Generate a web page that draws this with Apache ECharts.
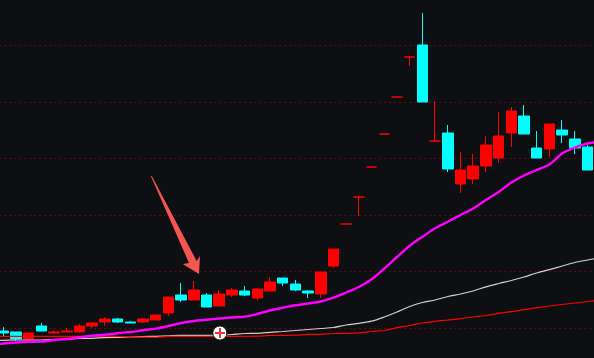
<!DOCTYPE html>
<html>
<head>
<meta charset="utf-8">
<style>
  html, body { margin: 0; padding: 0; background: #0e0f12; }
  #chart { width: 594px; height: 358px; }
</style>
<script src="https://cdn.jsdelivr.net/npm/echarts@6/dist/echarts.min.js"></script>
</head>
<body>
<div id="chart"></div>
<script>
// first and last slot only carry the averages so they run off the canvas edges
const opens = [null, 5.35, 5.25, 4.55, 5.85, 5.15, 5.25, 5.25, 5.85, 6.25, 6.55, 6.25, 6.25, 6.45, 7.15, 8.95, 8.45, 8.95, 7.85, 8.95, 9.35, 8.65, 9.35, 10.65, 10.05, 9.35, 9.05, 11.85, 16.05, 18.75, 21.75, 25.05, 28.75, 32.75, 33.95, 24.35, 25.15, 20.05, 20.55, 21.85, 22.65, 25.15, 26.85, 23.65, 23.55, 25.45, 24.55, 23.75, null]
const closes = [null, 5.15, 4.55, 5.15, 5.35, 5.25, 5.35, 5.85, 6.15, 6.55, 6.25, 6.15, 6.55, 6.95, 8.75, 8.45, 9.45, 7.75, 9.05, 9.45, 8.95, 9.55, 10.25, 10.15, 9.45, 9.15, 11.25, 13.55, 16.05, 18.75, 21.75, 25.05, 28.75, 32.75, 28.25, 24.35, 21.55, 21.45, 21.85, 23.95, 24.85, 27.35, 25.05, 22.65, 26.05, 24.95, 23.65, 21.45, null]
const lows = [null, 4.85, 4.35, 4.4, 5.35, 5.05, 5.25, 5.15, 5.65, 5.85, 6.15, 6.15, 6.15, 6.45, 6.85, 8.25, 8.45, 7.75, 7.85, 8.75, 8.85, 8.45, 9.35, 9.85, 9.35, 8.65, 8.65, 11.65, 16.05, 16.85, 21.75, 25.05, 28.75, 31.85, 28.25, 24.35, 21.25, 19.15, 20.05, 21.25, 22.15, 23.75, 25.05, 22.65, 22.75, 24.15, 23.05, 21.45, null]
const highs = [null, 5.75, 5.25, 5.15, 6.15, 5.45, 5.65, 6.05, 6.15, 6.75, 6.65, 6.35, 6.65, 6.95, 8.75, 10.15, 10.35, 9.15, 9.45, 9.65, 9.85, 9.65, 10.75, 10.65, 10.45, 9.45, 11.25, 13.55, 16.05, 18.75, 21.75, 25.05, 28.75, 32.75, 37.15, 28.35, 25.95, 23.25, 23.05, 24.85, 27.25, 27.75, 27.95, 25.35, 26.05, 26.45, 25.35, 23.95, null]

const maFast = [3.95, 4.1, 4.2, 4.27, 4.29, 4.45, 4.55, 4.72, 4.87, 4.97, 5.13, 5.25, 5.42, 5.59, 5.85, 6.15, 6.35, 6.48, 6.6, 6.7, 6.78, 7.05, 7.4, 7.67, 7.92, 8.1, 8.3, 8.68, 9.2, 9.75, 10.52, 11.6, 12.75, 13.88, 14.77, 15.62, 16.27, 16.95, 17.6, 18.45, 19.25, 20.2, 20.9, 21.45, 22, 23.1, 23.7, 24.1, 24.25]
const maMid = [4.4, 4.42, 4.45, 4.45, 4.45, 4.5, 4.55, 4.6, 4.62, 4.69, 4.72, 4.75, 4.79, 4.82, 4.87, 4.92, 4.92, 4.92, 4.92, 5, 5.1, 5.12, 5.21, 5.3, 5.4, 5.5, 5.6, 5.7, 5.95, 6.12, 6.33, 6.75, 7.25, 7.8, 8.2, 8.45, 8.8, 9.05, 9.35, 9.77, 10.1, 10.4, 10.75, 11.15, 11.48, 11.85, 12.2, 12.45, 12.68]
const maSlow = [4.82, 4.82, 4.82, 4.82, 4.82, 4.82, 4.82, 4.82, 4.82, 4.82, 4.82, 4.77, 4.73, 4.72, 4.81, 4.82, 4.82, 4.82, 4.82, 4.82, 4.82, 4.83, 4.91, 4.92, 4.93, 5.01, 5.02, 5.1, 5.12, 5.17, 5.3, 5.4, 5.68, 5.9, 6.15, 6.32, 6.45, 6.58, 6.75, 6.9, 7.12, 7.28, 7.48, 7.68, 7.85, 8, 8.15, 8.3, 8.43]

const days = opens.map((_, i) => i)
const candles = opens.map((o, i) => (o === null ? '-' : [o, closes[i], lows[i], highs[i]]))

const upColor = '#ff0000'
const downColor = '#00ffff'

function maSeries(data, color, width) {
  return {
    type: 'line',
    data,
    symbol: 'none',
    smooth: 0.3,
    silent: true,
    lineStyle: { color, width },
  }
}

const chart = echarts.init(document.getElementById('chart'), null, { renderer: 'canvas' })

chart.setOption({
  animation: false,
  backgroundColor: '#0e0f12',
  grid: { left: -15.75, top: -11, width: 622.3, height: 395.5, outerBoundsMode: 'none' },
  xAxis: {
    type: 'category',
    data: days,
    axisLine: { show: false },
    axisTick: { show: false },
    axisLabel: { show: false },
    splitLine: { show: false },
  },
  yAxis: {
    type: 'value',
    min: 0,
    max: 39.55,
    interval: 5.65,
    axisLine: { show: false },
    axisTick: { show: false },
    axisLabel: { show: false },
    splitLine: {
      show: true,
      lineStyle: { color: '#6a0a0a', width: 1, type: [2, 3] },
    },
  },
  series: [
    {
      type: 'candlestick',
      data: candles,
      barWidth: 11,
      silent: true,
      itemStyle: {
        color: upColor,
        color0: downColor,
        borderColor: upColor,
        borderColor0: downColor,
        borderColorDoji: upColor,
        borderWidth: 1,
      },
    },
    maSeries(maMid, '#d0d0d0', 1.2),
    maSeries(maSlow, '#ff0000', 1.2),
    maSeries(maFast, '#ff00ff', 2.4),
  ],
  graphic: [
    // hand drawn arrow on top of the screenshot
    {
      type: 'polygon',
      z: 100,
      shape: {
        points: [[150.8, 176], [151.8, 176], [196.7, 261], [200, 256], [199, 274], [182.7, 264], [189, 263]],
      },
      style: { fill: '#f2564e' },
    },
    // "add" badge
    {
      type: 'circle',
      z: 100,
      shape: { cx: 219.8, cy: 333, r: 7 },
      style: { fill: '#ffffff', stroke: '#1c1c1c', lineWidth: 1 },
    },
    { type: 'rect', z: 101, shape: { x: 215, y: 332, width: 10, height: 2 }, style: { fill: '#f0323c' } },
    { type: 'rect', z: 101, shape: { x: 219, y: 328, width: 2, height: 10 }, style: { fill: '#f0323c' } },
  ],
})
</script>
</body>
</html>
